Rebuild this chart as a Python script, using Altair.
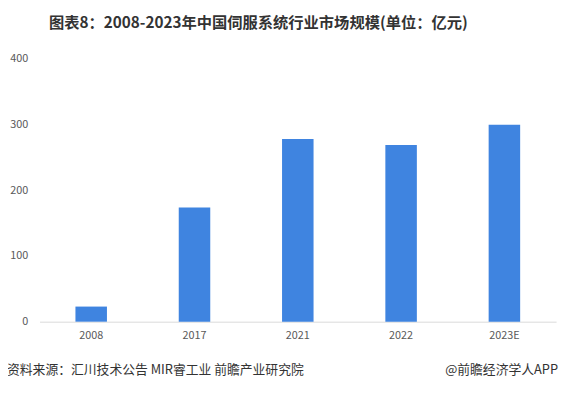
import altair as alt
import pandas as pd

years = ["2008", "2017", "2021", "2022", "2023E"]
values = [23, 174, 278, 269, 300]
title_text = "图表8：2008-2023年中国伺服系统行业市场规模(单位：亿元)"
source_text = "资料来源：汇川技术公告 MIR睿工业 前瞻产业研究院"
brand_text = "@前瞻经济学人APP"

FONT = "Noto Sans CJK SC"

df = pd.DataFrame({"year": years, "value": values})

bars = alt.Chart(df).mark_bar(color="#3F84E0").encode(
    x=alt.X("year:N", sort=years, title=None,
            scale=alt.Scale(paddingInner=0.695, paddingOuter=0.3475),
            axis=alt.Axis(labelAngle=0, ticks=False, domainColor="#d9d9d9",
                          labelColor="#595959", labelFontSize=11, labelFont=FONT,
                          labelPadding=8)),
    y=alt.Y("value:Q", title=None,
            scale=alt.Scale(domain=[0, 400], nice=False),
            axis=alt.Axis(values=[0, 100, 200, 300, 400], grid=False, domain=False,
                          ticks=False, labelColor="#595959", labelFontSize=11,
                          labelFont=FONT, labelPadding=12)),
)

one = pd.DataFrame({"t": [source_text]})
src = alt.Chart(one).mark_text(align="left", baseline="middle", font=FONT,
                               fontSize=13, color="#333333").encode(
    x=alt.value(-33), y=alt.value(316), text="t:N")

one2 = pd.DataFrame({"t": [brand_text]})
brand = alt.Chart(one2).mark_text(align="right", baseline="middle", font=FONT,
                                  fontSize=13, color="#333333").encode(
    x=alt.value(526), y=alt.value(316), text="t:N")

chart = alt.layer(bars, src, brand).properties(
    width=524, height=266.5,
    background="white",
    title=alt.TitleParams(title_text, font=FONT, fontSize=15.5, fontWeight="bold",
                          color="#333333", anchor="middle", dx=-40, offset=22),
    autosize=alt.AutoSizeParams(type="none"),
    padding={"left": 32, "top": 49, "right": 4, "bottom": 61},
).configure_view(strokeWidth=0, stroke=None)

chart.save("out.html", embed_options={"renderer": "svg", "actions": False})
